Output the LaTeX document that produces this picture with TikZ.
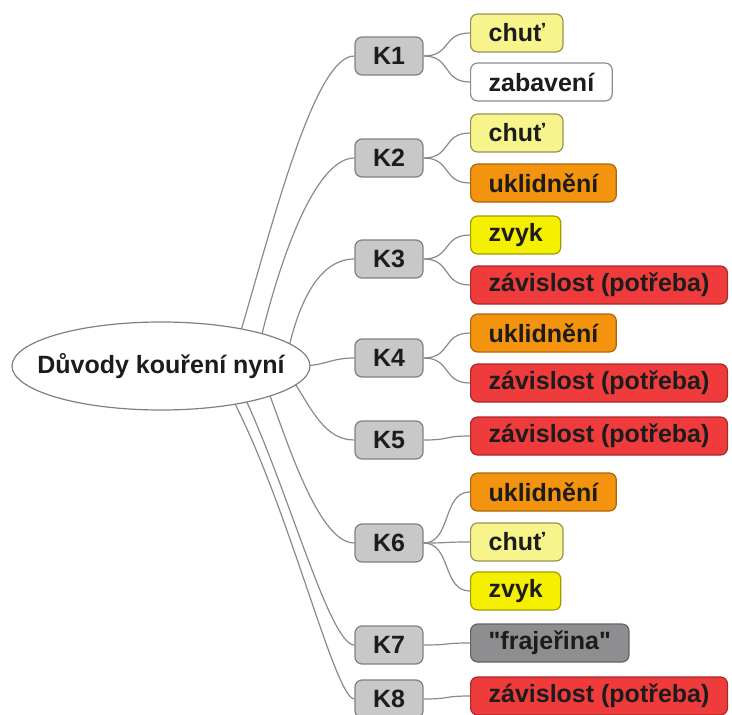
\documentclass[tikz,border=0pt]{standalone}
\usepackage{fontspec}
\setmainfont{Liberation Sans}[Ligatures=TeXOff]
\usetikzlibrary{shapes.geometric}
\definecolor{kgray}{HTML}{C8C8C8}
\definecolor{paleyellow}{HTML}{F8F48C}
\definecolor{brightyellow}{HTML}{F5F000}
\definecolor{orangefill}{HTML}{F3930E}
\definecolor{redfill}{HTML}{EF3B3B}
\definecolor{darkgrayfill}{HTML}{8E8E91}
\definecolor{linegray}{HTML}{8A8A8A}
\definecolor{txt}{HTML}{1C1C1C}
\begin{document}
\begin{tikzpicture}[x=1pt,y=-1pt,
  every node/.style={font=\fontsize{25}{28}\selectfont\bfseries, text=txt},
  link/.style={draw=linegray, line width=1.2pt},
  rootnode/.style={ellipse, draw=black!50, line width=1.2pt, fill=white,
    minimum width=298pt, minimum height=88pt, inner xsep=-20pt, inner ysep=5pt},
  knode/.style={rectangle, rounded corners=7pt, draw=black!50, line width=1.2pt,
    fill=kgray, minimum width=68pt, minimum height=38pt, inner sep=0pt},
  leaf/.style={rectangle, rounded corners=7pt, line width=1.2pt, anchor=west,
    minimum height=38pt, inner xsep=18pt, inner ysep=0pt},
  chut/.style={leaf, fill=paleyellow, draw=paleyellow!60!black},
  plain/.style={leaf, fill=white, draw=black!45},
  calm/.style={leaf, fill=orangefill, draw=orangefill!70!black},
  habit/.style={leaf, fill=brightyellow, draw=brightyellow!65!black},
  need/.style={leaf, fill=redfill, draw=redfill!70!black},
  cool/.style={leaf, fill=darkgrayfill, draw=darkgrayfill!70!black},
  branch/.style={link}
]
\useasboundingbox (0,0) rectangle (732,715);

% group nodes
\node[knode] (k1) at (389,56) {K1};
\node[knode] (k2) at (389,158) {K2};
\node[knode] (k3) at (389,259) {K3};
\node[knode] (k4) at (389,358) {K4};
\node[knode] (k5) at (389,440) {K5};
\node[knode] (k6) at (389,543) {K6};
\node[knode] (k7) at (389,645) {K7};
\node[knode] (k8) at (389,699) {K8};

% leaves
\node[chut]  (c11) at (470,33)  {chuť};
\node[plain] (c12) at (470,82)  {zabavení};
\node[chut]  (c21) at (470,133) {chuť};
\node[calm]  (c22) at (470,183) {uklidnění};
\node[habit] (c31) at (470,235) {zvyk};
\node[need]  (c32) at (470,285) {závislost (potřeba)};
\node[calm]  (c41) at (470,333) {uklidnění};
\node[need]  (c42) at (470,383) {závislost (potřeba)};
\node[need]  (c51) at (470,436) {závislost (potřeba)};
\node[calm]  (c61) at (470,492) {uklidnění};
\node[chut]  (c62) at (470,542) {chuť};
\node[habit] (c63) at (470,591) {zvyk};
\node[cool]  (c71) at (470,643) {"frajeřina"};
\node[need]  (c81) at (470,696) {závislost (potřeba)};

% branches from the centre to the groups (start points lie under the ellipse)
\coordinate (s1) at (240,334);
\coordinate (s2) at (261,338);
\coordinate (s3) at (289,347);
\coordinate (s4) at (300,366);
\coordinate (s5) at (294,382);
\coordinate (s6) at (269,393);
\coordinate (s7) at (245,398);
\coordinate (s8) at (233,400);
\draw[branch] (s1) .. controls (275,215) and (315,56) .. (k1.west);
\draw[branch] (s2) .. controls (280,260) and (315,158) .. (k2.west);
\draw[branch] (s3) .. controls (300,300) and (320,259) .. (k3.west);
\draw[branch] (s4) .. controls (325,366) and (330,358) .. (k4.west);
\draw[branch] (s5) .. controls (312,410) and (325,440) .. (k5.west);
\draw[branch] (s6) .. controls (290,450) and (320,543) .. (k6.west);
\draw[branch] (s7) .. controls (290,495) and (330,645) .. (k7.west);
\draw[branch] (s8) .. controls (290,510) and (335,699) .. (k8.west);

\node[rootnode] (root) at (161,366) {Důvody kouření nyní};

% links from groups to leaves
\foreach \k/\c in {k1/c11,k1/c12,k2/c21,k2/c22,k3/c31,k3/c32,k4/c41,k4/c42,
                   k5/c51,k6/c61,k6/c62,k6/c63,k7/c71,k8/c81}
  \draw[link] (\k.east) .. controls +(28,0) and +(-28,0) .. (\c.west);
\end{tikzpicture}
\end{document}
